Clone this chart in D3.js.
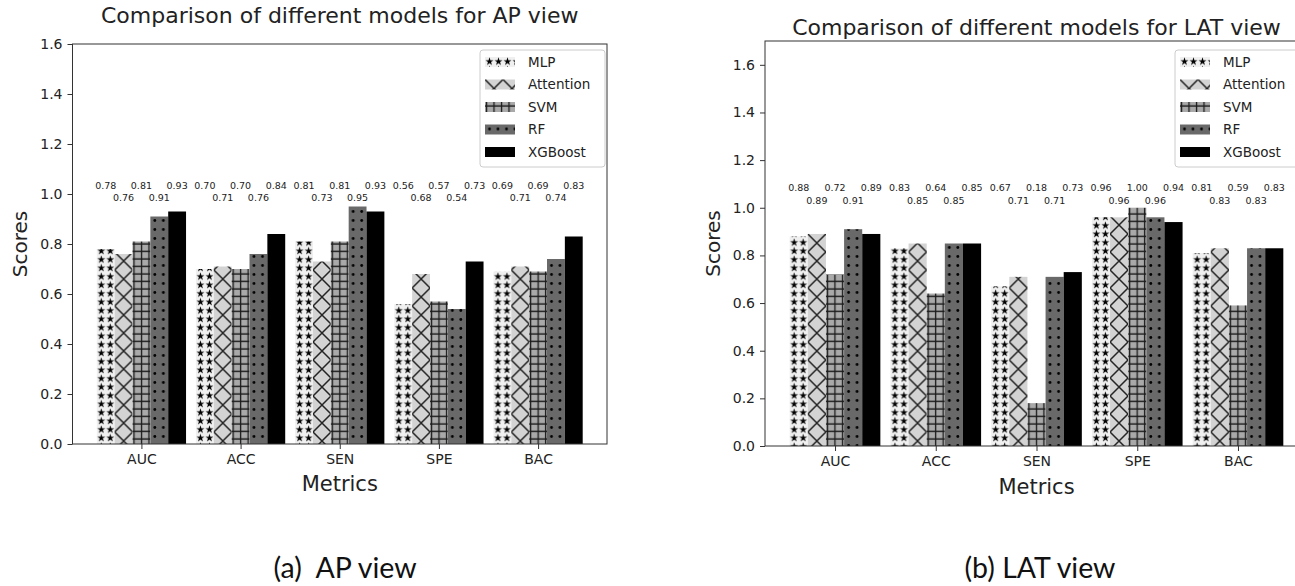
<!DOCTYPE html>
<html>
<head>
<meta charset="utf-8">
<script src="https://cdn.jsdelivr.net/npm/d3@7"></script>
<style>
  body { margin: 0; background: #fff; }
  text { font-family: "DejaVu Sans", sans-serif; fill: #222; }
  .axis text { font-size: 14px; fill: #222; }
  .axis path, .axis line { stroke: #333; }
</style>
</head>
<body>
<svg id="fig" width="1295" height="586"></svg>
<script>
// categories, series and ticks
var metrics = ["AUC", "ACC", "SEN", "SPE", "BAC"];
var models = ["MLP", "Attention", "SVM", "RF", "XGBoost"];
var yTicks = [0, 0.2, 0.4, 0.6, 0.8, 1.0, 1.2, 1.4, 1.6];

// AP view
var apMLP = [0.78, 0.70, 0.81, 0.56, 0.69];
var apAttention = [0.76, 0.71, 0.73, 0.68, 0.71];
var apSVM = [0.81, 0.70, 0.81, 0.57, 0.69];
var apRF = [0.91, 0.76, 0.95, 0.54, 0.74];
var apXGBoost = [0.93, 0.84, 0.93, 0.73, 0.83];

// LAT view
var latMLP = [0.88, 0.83, 0.67, 0.96, 0.81];
var latAttention = [0.89, 0.85, 0.71, 0.96, 0.83];
var latSVM = [0.72, 0.64, 0.18, 1.00, 0.59];
var latRF = [0.91, 0.85, 0.71, 0.96, 0.83];
var latXGBoost = [0.89, 0.85, 0.73, 0.94, 0.83];

var svg = d3.select("#fig");
svg.append("rect").attr("width", 1295).attr("height", 586).attr("fill", "white");

// hatch patterns (one per model)
var defs = svg.append("defs");

var p0 = defs.append("pattern").attr("id", "pat0")
    .attr("patternUnits", "userSpaceOnUse").attr("width", 9).attr("height", 8.5);
p0.append("rect").attr("width", 9).attr("height", 8.5).attr("fill", "#f0f0f0");
p0.append("path").attr("transform", "translate(4.5,4.5)")
    .attr("d", d3.symbol().type(d3.symbolStar).size(20)())
    .attr("fill", "#000");

var p1 = defs.append("pattern").attr("id", "pat1")
    .attr("patternUnits", "userSpaceOnUse").attr("width", 18).attr("height", 18);
p1.append("rect").attr("width", 18).attr("height", 18).attr("fill", "#d3d3d3");
p1.append("path").attr("d", "M0,0L18,18M18,0L0,18")
    .attr("stroke", "#222").attr("stroke-width", 1.5).attr("fill", "none");

var p2 = defs.append("pattern").attr("id", "pat2")
    .attr("patternUnits", "userSpaceOnUse").attr("width", 7.5).attr("height", 7.5);
p2.append("rect").attr("width", 7.5).attr("height", 7.5).attr("fill", "#a9a9a9");
p2.append("path").attr("d", "M1.5,0V7.5M0,4H7.5")
    .attr("stroke", "#1a1a1a").attr("stroke-width", 1.3).attr("fill", "none");

var p3 = defs.append("pattern").attr("id", "pat3")
    .attr("patternUnits", "userSpaceOnUse").attr("width", 8.5).attr("height", 9);
p3.append("rect").attr("width", 8.5).attr("height", 9).attr("fill", "#696969");
p3.append("circle").attr("cx", 4.5).attr("cy", 4.5).attr("r", 1.4).attr("fill", "#000");

var p4 = defs.append("pattern").attr("id", "pat4")
    .attr("patternUnits", "userSpaceOnUse").attr("width", 10).attr("height", 10);
p4.append("rect").attr("width", 10).attr("height", 10).attr("fill", "#000");

function drawChart(o) {
    var g = svg.append("g");
    var bar = 0.18;

    var x = d3.scaleLinear().domain([-0.695, 4.695]).range([o.left, o.right]);
    var y = d3.scaleLinear().domain([0, o.yMax]).range([o.bottom, o.top]);
    var bw = x(bar) - x(0);

    // bars, each one in its own group so the hatch starts at the bar's left edge
    o.series.forEach(function(vals, k) {
        g.selectAll(null)
            .data(vals)
            .enter()
            .append("g")
            .attr("transform", function(d, i) { return "translate(" + x(i + (k - 2) * bar - bar / 2) + ",0)"; })
            .append("rect")
            .attr("x", 0)
            .attr("width", bw)
            .attr("y", function(d) { return y(d); })
            .attr("height", function(d) { return y(0) - y(d); })
            .attr("fill", "url(#pat" + k + ")");
    });

    // value labels in two staggered rows
    o.series.forEach(function(vals, k) {
        g.selectAll(null)
            .data(vals)
            .enter()
            .append("text")
            .attr("x", function(d, i) { return x(i + (k - 2) * bar); })
            .attr("y", y(k % 2 == 0 ? o.row1 : o.row2))
            .attr("dy", "0.35em")
            .attr("text-anchor", "middle")
            .style("font-size", "9.5px")
            .text(function(d) { return d.toFixed(2); });
    });

    // frame
    g.append("rect")
        .attr("x", o.left).attr("y", o.top)
        .attr("width", o.right - o.left).attr("height", o.bottom - o.top)
        .attr("fill", "none").attr("stroke", "#333").attr("stroke-width", 1);

    // axes
    g.append("g")
        .attr("class", "axis")
        .attr("transform", "translate(" + o.left + ",0)")
        .call(d3.axisLeft(y).tickValues(yTicks).tickFormat(d3.format(".1f")).tickSize(5).tickPadding(5))
        .select(".domain").remove();

    g.append("g")
        .attr("class", "axis")
        .attr("transform", "translate(0," + o.bottom + ")")
        .call(d3.axisBottom(x).tickValues([0, 1, 2, 3, 4]).tickFormat(function(i) { return metrics[i]; }).tickSize(5).tickPadding(5))
        .select(".domain").remove();

    var cx = (o.left + o.right) / 2;

    //title
    g.append("text")
        .attr("x", cx).attr("y", o.titleY)
        .attr("text-anchor", "middle")
        .style("font-size", "22px")
        .text(o.title);

    //label y axis
    g.append("text")
        .attr("transform", "translate(" + o.ylabX + "," + ((o.top + o.bottom) / 2) + ") rotate(-90)")
        .attr("text-anchor", "middle")
        .style("font-size", "20px")
        .text("Scores");

    //label x axis
    g.append("text")
        .attr("x", cx).attr("y", o.xlabY)
        .attr("text-anchor", "middle")
        .style("font-size", "21px")
        .text("Metrics");

    // legend
    var lg = g.append("g").attr("transform", "translate(" + o.legX + "," + o.legY + ")");
    lg.append("rect")
        .attr("width", o.legW).attr("height", 117)
        .attr("rx", 3)
        .attr("fill", "white").attr("fill-opacity", 0.8)
        .attr("stroke", "#ccc");
    models.forEach(function(m, k) {
        var row = lg.append("g").attr("transform", "translate(5," + (7 + k * 22.5) + ")");
        row.append("rect").attr("width", 30).attr("height", 10).attr("fill", "url(#pat" + k + ")");
        row.append("text")
            .attr("x", 43).attr("y", 5).attr("dy", "0.35em")
            .style("font-size", "13.5px")
            .text(m);
    });

    // caption
    svg.append("text")
        .attr("x", o.capX).attr("y", 578)
        .attr("text-anchor", "middle")
        .attr("xml:space", "preserve")
        .style("white-space", "pre")
        .style("font-family", "Lato, 'Open Sans', sans-serif")
        .style("font-size", "28.5px")
        .style("fill", "#111")
        .text(o.caption);
}

drawChart({
    series: [apMLP, apAttention, apSVM, apRF, apXGBoost],
    left: 72.5, right: 607, top: 44, bottom: 444, yMax: 1.6,
    row1: 1.035, row2: 0.985,
    title: "Comparison of different models for AP view", titleY: 23,
    ylabX: 27, xlabY: 491,
    legX: 480, legY: 50, legW: 125,
    caption: "(a)  AP view", capX: 345
});

drawChart({
    series: [latMLP, latAttention, latSVM, latRF, latXGBoost],
    left: 765, right: 1308, top: 41, bottom: 446, yMax: 1.7,
    row1: 1.084, row2: 1.03,
    title: "Comparison of different models for LAT view", titleY: 35,
    ylabX: 720, xlabY: 494,
    legX: 1175, legY: 50, legW: 128,
    caption: "(b) LAT view", capX: 1040
});
</script>
</body>
</html>
